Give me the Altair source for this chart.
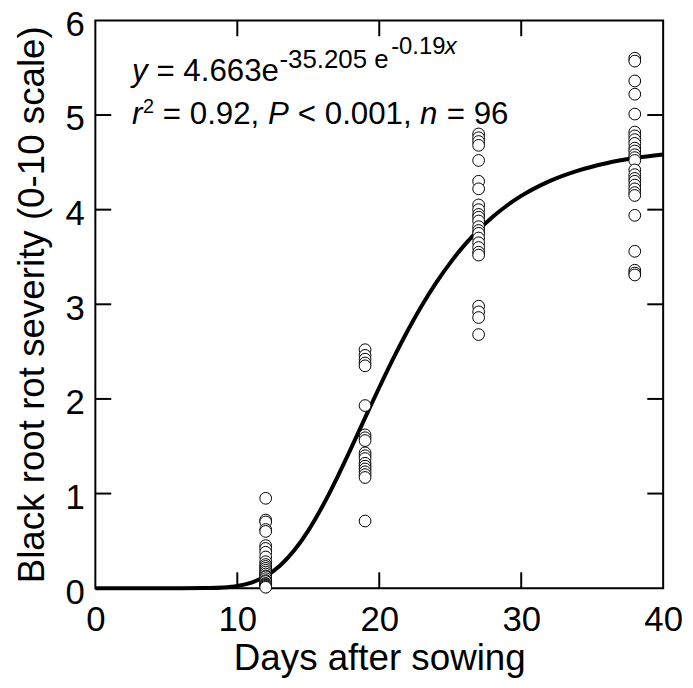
import altair as alt
import pandas as pd

# ---------------- data ----------------
days = [12, 19, 27, 38]
severity_day12 = [0.95, 0.72, 0.70, 0.62, 0.60, 0.45, 0.42, 0.38, 0.33, 0.28, 0.25, 0.23, 0.21,
                  0.19, 0.17, 0.15, 0.13, 0.12, 0.10, 0.08, 0.07, 0.05, 0.04, 0.03, 0.02, 0.01]
severity_day19 = [2.52, 2.46, 2.42, 2.38, 2.35, 1.93, 1.62, 1.59, 1.56, 1.43, 1.40, 1.37, 1.32,
                  1.29, 1.26, 1.23, 1.20, 1.17, 0.71]
severity_day27 = [4.80, 4.76, 4.72, 4.68, 4.52, 4.30, 4.22, 4.05, 4.00, 3.95, 3.92, 3.88, 3.82,
                  3.78, 3.75, 3.70, 3.65, 3.60, 3.55, 3.52, 2.98, 2.92, 2.86, 2.68]
severity_day38 = [5.60, 5.57, 5.36, 5.22, 5.01, 4.82, 4.78, 4.74, 4.70, 4.65, 4.62, 4.58, 4.55,
                  4.52, 4.42, 4.37, 4.33, 4.30, 4.26, 4.22, 4.18, 4.15, 3.94, 3.56, 3.36, 3.33, 3.31]

curve_days = [0, 2, 4, 6, 8, 9, 10, 11, 12, 13, 14, 15, 16, 17, 18, 19, 20, 21, 22, 23, 24,
              25, 26, 27, 28, 29, 30, 32, 34, 36, 38, 40]
curve_severity = [0, 0, 0, 0.0001, 0.002, 0.008, 0.024, 0.060, 0.127, 0.237, 0.398, 0.609,
                  0.866, 1.159, 1.474, 1.800, 2.121, 2.431, 2.721, 2.987, 3.226, 3.438, 3.625,
                  3.786, 3.925, 4.044, 4.145, 4.302, 4.413, 4.491, 4.545, 4.582]

x_tick_labels = [0, 10, 20, 30, 40]
y_tick_labels = [0, 1, 2, 3, 4, 5, 6]
inner_x_ticks = [10, 20, 30]
inner_y_ticks = [1, 2, 3, 4, 5]

x_title = "Days after sowing"
y_title = "Black root rot severity (0-10 scale)"
eq_parts = ["y", "= 4.663e", "-35.205 e", "-0.19", "x"]
stat_parts = ["r", "2", "= 0.92,", "P", "< 0.001,", "n", "= 96"]

# ---------------- chart ----------------
W = H = 572
FONT = "Liberation Sans"
TICK = 16
MAIN = 31.5

point_days, point_sev = [], []
for d, vals in zip(days, [severity_day12, severity_day19, severity_day27, severity_day38]):
    point_days += [d] * len(vals)
    point_sev += vals
points_df = pd.DataFrame({"day": point_days, "severity": point_sev})
curve_df = pd.DataFrame({"day": curve_days, "severity": curve_severity})

xs = alt.Scale(domain=[0, 40], nice=False, zero=False)
ys = alt.Scale(domain=[0, 6], nice=False, zero=False)

axis_common = dict(ticks=False, domain=False, grid=False, labelFont=FONT, titleFont=FONT,
                   labelFontSize=35, titleFontSize=37, titleFontWeight="normal",
                   labelColor="black", titleColor="black", labelFlush=False, labelOverlap=False)

x_axis = alt.Axis(values=x_tick_labels, title=x_title, labelPadding=15, titlePadding=3,
                  **axis_common)
y_axis = alt.Axis(values=y_tick_labels, title=y_title, labelPadding=11, titlePadding=14,
                  labelOffset=4, **axis_common)


def X(field):
    return alt.X(field, scale=xs, axis=x_axis)


def Y(field):
    return alt.Y(field, scale=ys, axis=y_axis)


curve = alt.Chart(curve_df).mark_line(color="black", strokeWidth=4, interpolate="monotone").encode(
    x=X("day:Q"), y=Y("severity:Q"))

pts = alt.Chart(points_df).mark_point(
    shape="circle", filled=True, fill="white", stroke="black", strokeWidth=1,
    size=140, opacity=1, fillOpacity=1
).encode(x=X("day:Q"), y=Y("severity:Q"))

ytick_df = pd.DataFrame({"v": inner_y_ticks})
xtick_df = pd.DataFrame({"v": inner_x_ticks})
rule_kw = dict(color="black", strokeWidth=2)
left_ticks = alt.Chart(ytick_df).mark_rule(**rule_kw).encode(
    y=Y("v:Q"), x=alt.value(0), x2=alt.value(TICK))
right_ticks = alt.Chart(ytick_df).mark_rule(**rule_kw).encode(
    y=Y("v:Q"), x=alt.value(W - TICK), x2=alt.value(W))
bottom_ticks = alt.Chart(xtick_df).mark_rule(**rule_kw).encode(
    x=X("v:Q"), y=alt.value(H - TICK), y2=alt.value(H))
top_ticks = alt.Chart(xtick_df).mark_rule(**rule_kw).encode(
    x=X("v:Q"), y=alt.value(0), y2=alt.value(TICK))

one = pd.DataFrame({"a": [0]})


def seg(text, x, y, size, italic=False):
    kw = dict(text=text, x=x, y=y, fontSize=size, font=FONT, align="left",
              baseline="alphabetic", color="black")
    if italic:
        kw["fontStyle"] = "italic"
    return alt.Chart(one).mark_text(**kw).encode(opacity=alt.value(1))


texts = [
    seg(eq_parts[0], 37, 61, MAIN, True),
    seg(eq_parts[1], 61.5, 61, MAIN),
    seg(eq_parts[2], 185.5, 48, 26),
    seg(eq_parts[3], 298, 34, 24),
    seg(eq_parts[4], 352, 34, 24, True),
    seg(stat_parts[0], 37, 104, MAIN, True),
    seg(stat_parts[1], 48, 93, 20),
    seg(stat_parts[2], 68, 104, MAIN),
    seg(stat_parts[3], 174, 104, MAIN, True),
    seg(stat_parts[4], 204, 104, MAIN),
    seg(stat_parts[5], 327, 104, MAIN, True),
    seg(stat_parts[6], 354, 104, MAIN),
]

chart = alt.layer(
    curve, left_ticks, right_ticks, bottom_ticks, top_ticks, pts, *texts
).properties(
    width=W, height=H,
    padding={"left": 88, "top": 10, "right": 22, "bottom": 90},
    autosize=alt.AutoSizeParams(type="none"),
    background="white",
).configure_view(
    stroke="black", strokeWidth=2
)

chart.save("out.html", embed_options={"renderer": "svg", "actions": False})
